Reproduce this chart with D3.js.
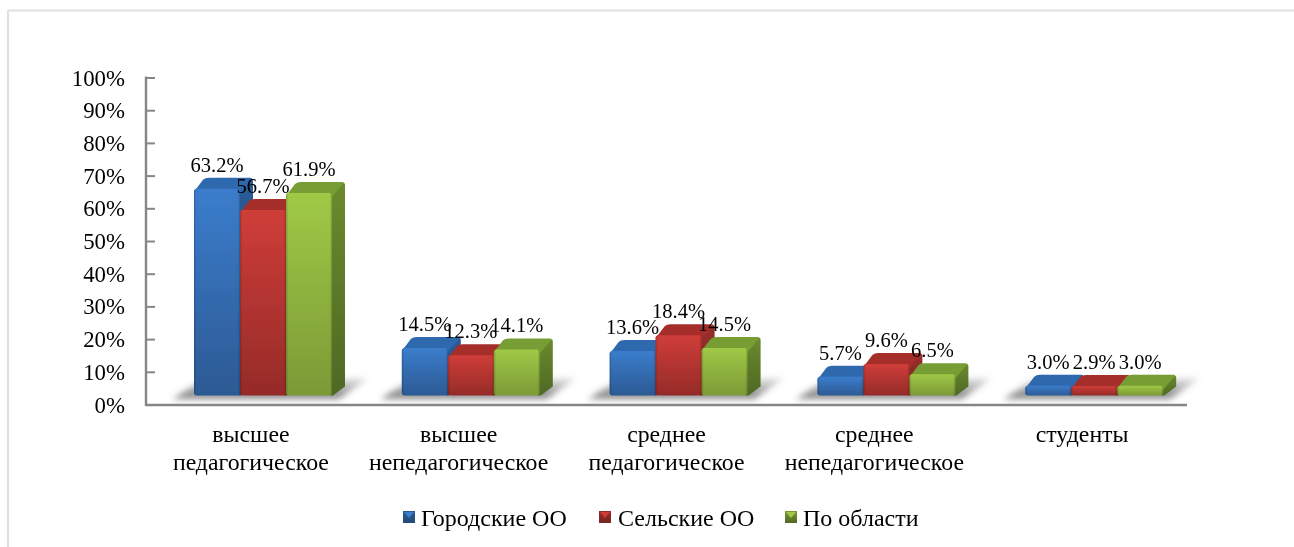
<!DOCTYPE html>
<html><head><meta charset="utf-8">
<script src="https://cdn.jsdelivr.net/npm/d3@7"></script>
<style>
html,body{margin:0;padding:0;background:#fff;overflow:hidden}
svg{display:block}
text{font-family:"Liberation Serif","Times New Roman",serif;fill:#000}
</style></head><body>
<svg id="c" width="1294" height="547"></svg>
<script>
const categories = [["высшее","педагогическое"],["высшее","непедагогическое"],["среднее","педагогическое"],["среднее","непедагогическое"],["студенты"]];
const seriesNames = ["Городские ОО","Сельские ОО","По области"];
const urban = [63.2,14.5,13.6,5.7,3.0];
const rural = [56.7,12.3,18.4,9.6,2.9];
const region = [61.9,14.1,14.5,6.5,3.0];
const yTicks = [0,10,20,30,40,50,60,70,80,90,100];
const seriesValues = [urban,rural,region];
const palette = [
  {hi:"#3b7dcc",lo:"#2c5a94",topc:"#2f69ad",side:"#2a5c98",sideLo:"#234a78"},
  {hi:"#cf3d39",lo:"#952b28",topc:"#a62f2b",side:"#97302b",sideLo:"#7a2522"},
  {hi:"#a0c946",lo:"#7b9a36",topc:"#779d34",side:"#6a8a2e",sideLo:"#4f6924"}
];

const svg = d3.select("#c");
const defs = svg.append("defs");
palette.forEach((p,i)=>{
  const g=defs.append("linearGradient").attr("id","front"+i).attr("x1",0).attr("x2",0).attr("y1",0).attr("y2",1);
  g.append("stop").attr("offset",0).attr("stop-color",p.hi);
  g.append("stop").attr("offset",1).attr("stop-color",p.lo);
  const s=defs.append("linearGradient").attr("id","side"+i).attr("x1",0).attr("x2",0).attr("y1",0).attr("y2",1);
  s.append("stop").attr("offset",0).attr("stop-color",p.side);
  s.append("stop").attr("offset",1).attr("stop-color",p.sideLo);
  const e=defs.append("linearGradient").attr("id","edge"+i).attr("x1",0).attr("x2",1).attr("y1",0).attr("y2",0);
  e.append("stop").attr("offset",0).attr("stop-color","#000").attr("stop-opacity",.2);
  e.append("stop").attr("offset",.05).attr("stop-color","#000").attr("stop-opacity",0);
  e.append("stop").attr("offset",.95).attr("stop-color","#000").attr("stop-opacity",0);
  e.append("stop").attr("offset",1).attr("stop-color","#000").attr("stop-opacity",.2);
});
defs.append("filter").attr("id","shadowBlur").attr("x","-20%").attr("y","-80%").attr("width","140%").attr("height","260%")
  .append("feGaussianBlur").attr("stdDeviation",3.4);
defs.append("filter").attr("id","soft").attr("x","-5%").attr("y","-5%").attr("width","110%").attr("height","110%")
  .append("feGaussianBlur").attr("stdDeviation",0.45);
const sg=defs.append("linearGradient").attr("id","shadowFill").attr("x1",0).attr("x2",0).attr("y1",0).attr("y2",1);
sg.append("stop").attr("offset",0).attr("stop-color","#bbbbbb").attr("stop-opacity",.45);
sg.append("stop").attr("offset",.8).attr("stop-color","#777").attr("stop-opacity",.9);
sg.append("stop").attr("offset",1).attr("stop-color","#888").attr("stop-opacity",.7);

// frame
const frameColor="#e0e0e0";
svg.append("line").attr("x1",8).attr("x2",1294).attr("y1",10.5).attr("y2",10.5).attr("stroke",frameColor).attr("stroke-width",2.2);
svg.append("line").attr("x1",8).attr("x2",8).attr("y1",10).attr("y2",547).attr("stroke",frameColor).attr("stroke-width",2.2);

const root=svg.append("g").attr("filter","url(#soft)");

const x = d3.scaleBand().domain(d3.range(categories.length)).range([146,1185]);
const y = d3.scaleLinear().domain([0,100]).range([404.5,77.5]);
const groupOffset = 48, groupWidth = 138;
const xs = d3.scaleBand().domain(d3.range(seriesNames.length)).range([0,groupWidth]);
const floorLift = 9;
const depthX = 13, depthY = 11;

// floor shadows
categories.forEach((c,i)=>{
  const x0=x(i)+groupOffset, b=y(0)-floorLift;
  const pts=[[x0-22,b+4],[x0+10,b-17],[x0+groupWidth+36,b-17],[x0+groupWidth+6,b+4]];
  root.append("path").attr("d","M"+pts.map(p=>p.join(",")).join("L")+"Z")
    .attr("fill","url(#shadowFill)").attr("filter","url(#shadowBlur)");
});

// axes
const axisColor="#868686";
const yAxis=d3.axisRight(y).tickValues(yTicks).tickSize(9).tickFormat("");
const yg=root.append("g").attr("transform","translate(146,0)").call(yAxis);
yg.select(".domain").remove();
yg.selectAll("line").attr("stroke",axisColor).attr("stroke-width",2);
root.append("line").attr("x1",146).attr("x2",146).attr("y1",76.5).attr("y2",405.5).attr("stroke",axisColor).attr("stroke-width",2.4);
root.append("line").attr("x1",145).attr("x2",1187).attr("y1",y(0)+.5).attr("y2",y(0)+.5).attr("stroke",axisColor).attr("stroke-width",2.4);

root.selectAll(".ytl").data(yTicks).join("text").attr("class","ytl")
  .attr("x",125).attr("y",d=>y(d)+8).attr("text-anchor","end").attr("font-size",22.8)
  .text(d=>d+"%");

// bars
categories.forEach((c,i)=>{
  seriesValues.forEach((vals,s)=>{
    const v=vals[i], l=x(i)+groupOffset+xs(s), w=xs.bandwidth(), b=y(0)-floorLift, h=y(0)-y(v), t=b-h;
    const r=l+w, dx=depthX, dy=depthY;
    const g=root.append("g");
    // side
    g.append("path").attr("d",`M${r-2},${b}L${r-2},${t}L${r+dx-3},${t-dy+1}Q${r+dx},${t-dy} ${r+dx},${t-dy+3}L${r+dx},${b-dy+2}L${r+1},${b}Z`)
      .attr("fill",`url(#side${s})`);
    // top
    g.append("path").attr("d",`M${l},${t+4}Q${l},${t+1} ${l+3},${t-1}L${l+dx-4},${t-dy+2}Q${l+dx-2},${t-dy} ${l+dx+2},${t-dy}L${r+dx-3},${t-dy}Q${r+dx},${t-dy} ${r+dx-2},${t-dy+2}L${r},${t+4}Z`)
      .attr("fill",palette[s].topc);
    // front
    g.append("rect").attr("x",l).attr("y",t).attr("width",w).attr("height",h).attr("rx",3)
      .attr("fill",`url(#front${s})`);
    g.append("rect").attr("x",l).attr("y",t).attr("width",w).attr("height",h).attr("rx",3)
      .attr("fill",`url(#edge${s})`);
  });
});

// data labels
categories.forEach((c,i)=>{
  seriesValues.forEach((vals,s)=>{
    const v=vals[i], l=x(i)+groupOffset+xs(s)+xs.bandwidth()/2, t=y(0)-floorLift-(y(0)-y(v));
    root.append("text").attr("x",l).attr("y",t-17).attr("text-anchor","middle").attr("font-size",20.5).text(v.toFixed(1)+"%");
  });
});

// category labels
categories.forEach((c,i)=>{
  const t=root.append("text").attr("text-anchor","middle").attr("font-size",23.8);
  c.forEach((ln,j)=>t.append("tspan").attr("x",x(i)+x.bandwidth()/2+1).attr("y",442+j*27.5).text(ln));
});

// legend
const legendX=[403,599,785], legendTextX=[421,618,803];
seriesNames.forEach((n,s)=>{
  const gr=defs.append("linearGradient").attr("id","lg"+s).attr("x1",0).attr("x2",0).attr("y1",0).attr("y2",1);
  gr.append("stop").attr("offset",0).attr("stop-color",palette[s].lo);
  gr.append("stop").attr("offset",1).attr("stop-color",palette[s].sideLo);
  const lx=legendX[s], ly=511, sz=12;
  root.append("rect").attr("x",lx).attr("y",ly).attr("width",sz).attr("height",sz).attr("fill",`url(#lg${s})`);
  root.append("path").attr("d",`M${lx+1},${ly+1}L${lx+sz-1},${ly+1}L${lx+sz/2},${ly+sz/2+1}Z`).attr("fill",palette[s].hi);
  root.append("text").attr("x",legendTextX[s]).attr("y",526).attr("font-size",24).text(n);
});
</script>
</body></html>
